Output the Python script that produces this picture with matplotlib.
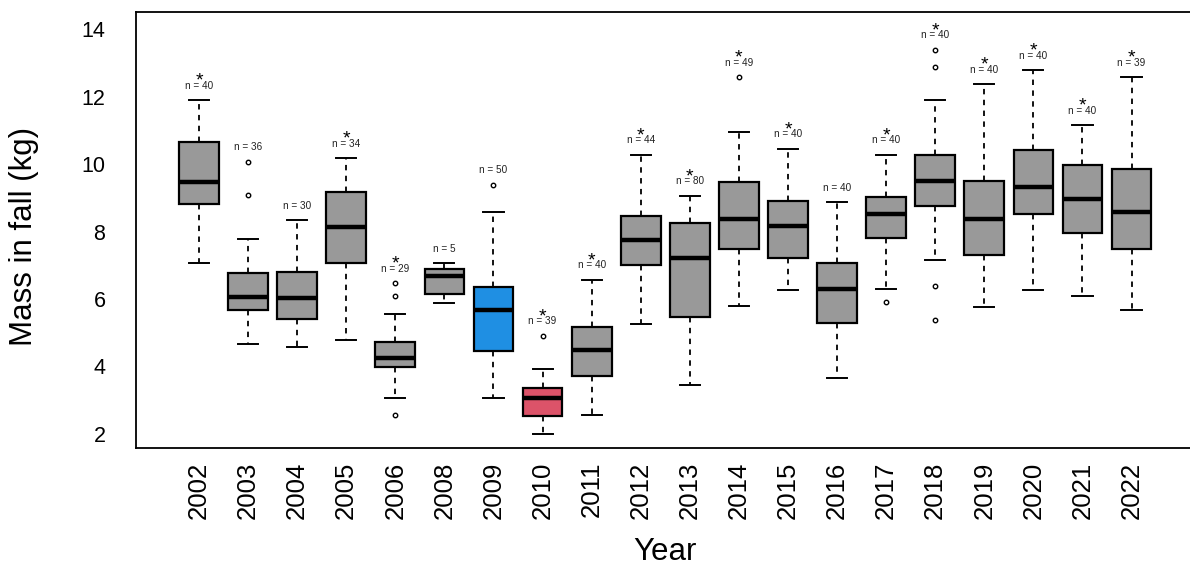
import matplotlib
matplotlib.use("Agg")
import matplotlib.pyplot as plt

plt.rcParams['font.family'] = ['Liberation Sans', 'DejaVu Sans']

years = ['2002', '2003', '2004', '2005', '2006', '2008', '2009', '2010', '2011', '2012',
         '2013', '2014', '2015', '2016', '2017', '2018', '2019', '2020', '2021', '2022']
whis_low = [7.07, 4.67, 4.57, 4.77, 3.06, 5.88, 3.07, 2.00, 2.57, 5.27,
            3.46, 5.78, 6.27, 3.66, 6.31, 7.16, 5.77, 6.27, 6.08, 5.67]
q1 = [8.82, 5.66, 5.42, 7.07, 3.97, 6.16, 4.47, 2.53, 3.71, 7.00,
      5.47, 7.48, 7.21, 5.30, 7.80, 8.76, 7.31, 8.53, 7.96, 7.48]
med = [9.46, 6.07, 6.02, 8.12, 4.26, 6.68, 5.66, 3.05, 4.50, 7.74,
       7.21, 8.36, 8.16, 6.29, 8.53, 9.51, 8.37, 9.33, 8.96, 8.57]
q3 = [10.66, 6.76, 6.80, 9.18, 4.71, 6.88, 6.36, 3.37, 5.16, 8.46,
      8.26, 9.46, 8.90, 7.08, 9.02, 10.28, 9.51, 10.42, 9.98, 9.86]
whis_high = [11.89, 7.77, 8.33, 10.17, 5.56, 7.06, 8.57, 3.93, 6.56, 10.28,
             9.05, 10.96, 10.46, 8.87, 10.27, 11.89, 12.37, 12.78, 11.15, 12.57]
outliers = [[], [10.07, 9.07], [], [], [6.46, 6.08, 2.57], [], [9.38], [4.90], [], [],
            [], [12.57], [], [], [5.92], [13.38, 12.89, 6.37, 5.37], [], [], [], []]
n_obs = [40, 36, 30, 34, 29, 5, 50, 39, 40, 44, 80, 49, 40, 40, 40, 40, 40, 40, 40, 39]
signif = [1, 0, 0, 1, 1, 0, 0, 1, 1, 1, 1, 1, 1, 0, 1, 1, 1, 1, 1, 1]

fills = {'2009': '#1f8fe3', '2010': '#dc5369'}

stats = []
for i in range(len(years)):
    stats.append({'whislo': whis_low[i], 'q1': q1[i], 'med': med[i], 'q3': q3[i],
                  'whishi': whis_high[i], 'fliers': outliers[i]})

fig = plt.figure(figsize=(11.9, 5.69), dpi=100)
ax = fig.add_axes([0.1143, 0.2127, 0.8895, 0.7667])

pos = list(range(1, len(years) + 1))
bp = ax.bxp(stats, positions=pos, widths=0.81, capwidths=0.41, patch_artist=True,
            boxprops=dict(edgecolor='black', linewidth=1.6),
            medianprops=dict(color='black', linewidth=3.2, solid_capstyle='butt'),
            whiskerprops=dict(color='black', linewidth=1.3, linestyle=(0, (3, 3))),
            capprops=dict(color='black', linewidth=1.4),
            flierprops=dict(marker='o', markersize=3.2, markerfacecolor='none',
                            markeredgecolor='black', markeredgewidth=1.0))
for b, y in zip(bp['boxes'], years):
    b.set_facecolor(fills.get(y, '#999999'))

# n labels and stars above the highest point
for i in range(len(years)):
    top = max([whis_high[i]] + outliers[i])
    ax.annotate('n = %d' % n_obs[i], (pos[i], top), xytext=(0, 8.4),
                textcoords='offset points', ha='center', va='baseline',
                fontsize=7.2, color='#222222')
    if signif[i]:
        ax.annotate('*', (pos[i], top), xytext=(0, 10.5),
                    textcoords='offset points', ha='center', va='baseline',
                    fontsize=14, color='black')

ax.set_xlim(-0.283, 21.283)
ax.set_ylim(1.58, 14.52)
ax.set_yticks([2, 4, 6, 8, 10, 12, 14])
ax.set_xticks(pos)
ax.set_xticklabels(years, rotation=90)
ax.tick_params(axis='y', length=0, pad=22, labelsize=15.5)
ax.tick_params(axis='x', length=0, pad=10, labelsize=18.5)
for s in ax.spines.values():
    s.set_linewidth(1.3)

ax.set_ylabel('Mass in fall (kg)', fontsize=22.5, va='center')
ax.yaxis.set_label_coords(-0.106, 0.486)
ax.set_xlabel('Year', fontsize=22.5, va='center')
ax.xaxis.set_label_coords(0.5, -0.238)

fig.savefig('out.png', dpi=100)
